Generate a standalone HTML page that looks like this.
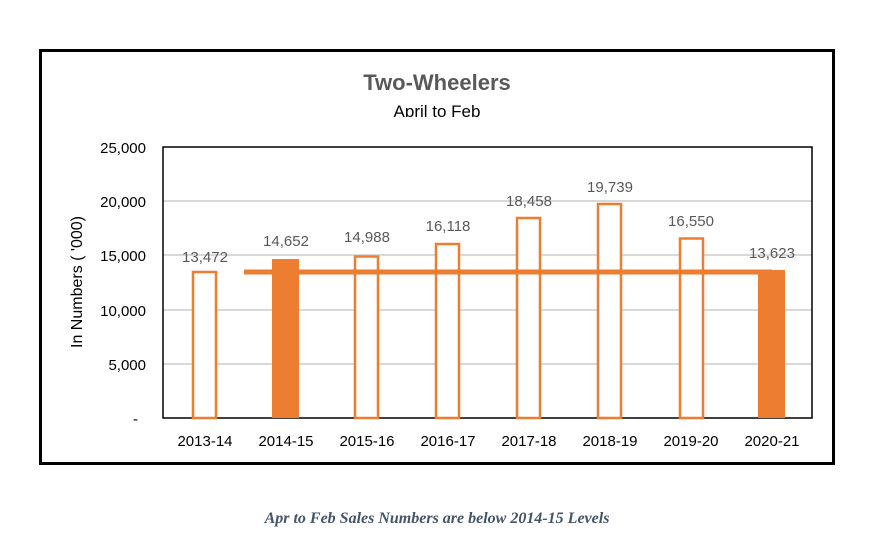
<!DOCTYPE html>
<html><head><style>
body{margin:0;width:888px;height:552px;background:#fff;overflow:hidden;position:relative;font-family:"Liberation Sans",sans-serif}
</style></head><body>
<svg width="888" height="552" style="position:absolute;left:0;top:0">
<rect x="40.5" y="50.5" width="793" height="413" fill="#fff" stroke="#000" stroke-width="3"/>
<text x="437" y="90" text-anchor="middle" font-size="22" font-weight="bold" fill="#595959">Two-Wheelers</text>
<svg x="300" y="95" width="280" height="22"><text x="137" y="22" text-anchor="middle" font-size="17" fill="#000">April to Feb</text></svg>
<g stroke="#d9d9d9" stroke-width="2">
<line x1="163" x2="812" y1="201" y2="201"/><line x1="163" x2="812" y1="255" y2="255"/>
<line x1="163" x2="812" y1="310" y2="310"/><line x1="163" x2="812" y1="364" y2="364"/>
</g>
<rect x="163" y="147" width="649" height="271" fill="none" stroke="#000" stroke-width="1.5"/>
<g font-size="15" fill="#000" text-anchor="end">
<text x="146" y="153">25,000</text><text x="146" y="207">20,000</text><text x="146" y="261">15,000</text>
<text x="146" y="316">10,000</text><text x="146" y="370">5,000</text><text x="138" y="424">-</text>
</g>
<text transform="translate(82,282) rotate(-90)" text-anchor="middle" font-size="16" fill="#000">In Numbers ( '000)</text>
<g fill="#fff" stroke="#ed7d31" stroke-width="2.5">
<rect x="193" y="272" width="23" height="146"/>
<rect x="355" y="256.5" width="23" height="161.5"/>
<rect x="436" y="244" width="23" height="174"/>
<rect x="517" y="218" width="23" height="200"/>
<rect x="598" y="204" width="23" height="214"/>
<rect x="680" y="238.5" width="23" height="179.5"/>
</g>
<line x1="244" x2="772" y1="272" y2="272" stroke="#ed7d31" stroke-width="5"/>
<rect x="272" y="259" width="27" height="159" fill="#ed7d31"/>
<rect x="758" y="270" width="27" height="148" fill="#ed7d31"/>
<g font-size="15" fill="#595959" text-anchor="middle">
<text x="205" y="262">13,472</text><text x="286" y="246">14,652</text><text x="367" y="242">14,988</text>
<text x="448" y="231">16,118</text><text x="529" y="206">18,458</text><text x="610" y="192">19,739</text>
<text x="691" y="226">16,550</text><text x="772" y="258">13,623</text>
</g>
<g font-size="15" fill="#000" text-anchor="middle">
<text x="205" y="446">2013-14</text><text x="286" y="446">2014-15</text><text x="367" y="446">2015-16</text>
<text x="448" y="446">2016-17</text><text x="529" y="446">2017-18</text><text x="610" y="446">2018-19</text>
<text x="691" y="446">2019-20</text><text x="772" y="446">2020-21</text>
</g>
<text x="437" y="523" text-anchor="middle" font-family="Liberation Serif,serif" font-style="italic" font-weight="bold" font-size="16" fill="#44546a">Apr to Feb Sales Numbers are below 2014-15 Levels</text>
</svg>
</body></html>
